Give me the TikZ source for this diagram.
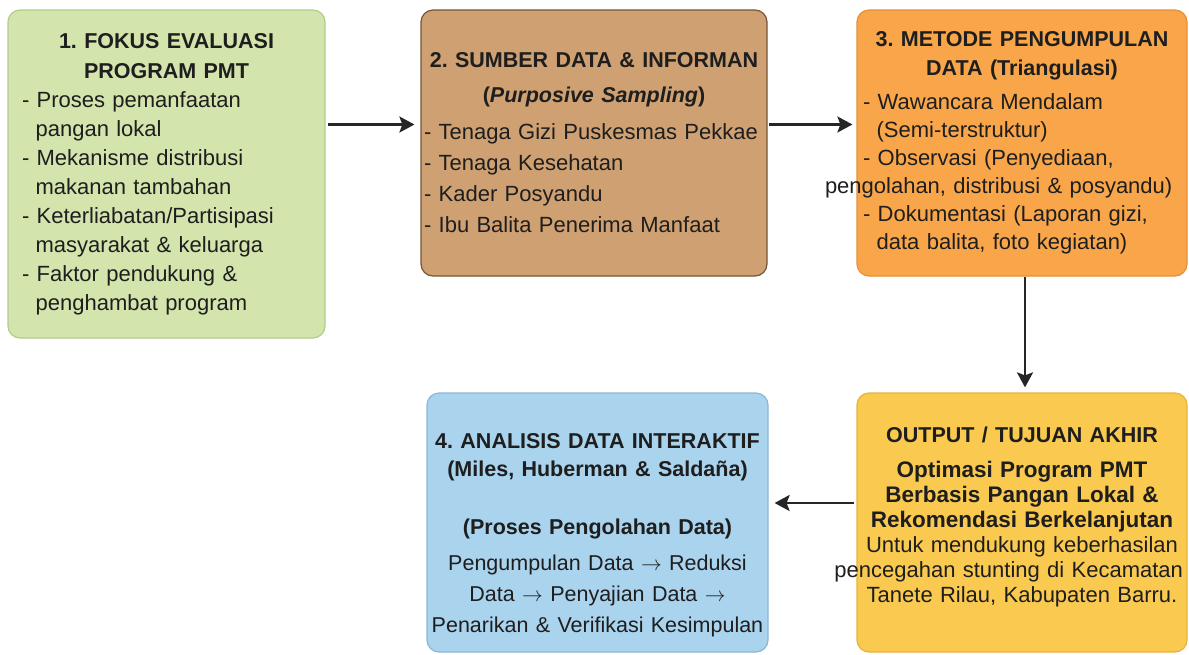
\documentclass[tikz,border=0pt]{standalone}
\usepackage{fontspec}
\setmainfont{Liberation Sans}
\usetikzlibrary{arrows.meta}

\definecolor{fokusfill}{RGB}{211,228,173}
\definecolor{fokusline}{RGB}{178,204,140}
\definecolor{sumberfill}{RGB}{207,160,113}
\definecolor{sumberline}{RGB}{115,85,55}
\definecolor{metodefill}{RGB}{249,166,75}
\definecolor{metodeline}{RGB}{232,142,55}
\definecolor{analisisfill}{RGB}{170,211,238}
\definecolor{analisisline}{RGB}{140,182,212}
\definecolor{outputfill}{RGB}{250,201,79}
\definecolor{outputline}{RGB}{232,178,60}
\definecolor{teks}{RGB}{30,30,30}

% one list entry, lines after the first hang under the text
\newcommand{\butir}[1]{\par\hangindent=0.62em\hangafter=1 - #1}
\newcommand{\judul}[1]{\fontsize{21.5}{#1}\selectfont\bfseries}
\newcommand{\panah}{$\rightarrow$}

\begin{document}
\frenchspacing
\begin{tikzpicture}[x=1pt, y=-1pt,
    box/.style={rounded corners=12pt, line width=1.2pt, inner sep=0pt,
        text=teks, font=\frenchspacing\fontsize{22}{29}\selectfont},
    flow/.style={line width=2.5pt, draw=black!85,
        -{Stealth[length=15pt, width=16pt, inset=3pt]}}]

    \useasboundingbox (0,0) rectangle (1189,654);

    % top row
    \node[box, fill=fokusfill, draw=fokusline,
        minimum width=317pt, minimum height=328pt, text width=289pt]
        (fokus) at (166.5,174) {%
        {\judul{30}\centering 1. FOKUS EVALUASI\\PROGRAM PMT\par}
        \raggedright
        \butir{Proses pemanfaatan\newline pangan lokal}
        \butir{Mekanisme distribusi\newline makanan tambahan}
        \butir{Keterliabatan/Partisipasi\newline masyarakat \& keluarga}
        \butir{Faktor pendukung \&\newline penghambat program}\par};

    \node[box, fill=sumberfill, draw=sumberline,
        minimum width=346pt, minimum height=266pt, text width=340pt]
        (sumber) at (594,143) {%
        {\judul{35}\centering 2. SUMBER DATA \& INFORMAN\\(\textit{Purposive Sampling})\par}
        \vspace{6pt}
        \fontsize{22}{31}\selectfont\raggedright
        \butir{Tenaga Gizi Puskesmas Pekkae}
        \butir{Tenaga Kesehatan}
        \butir{Kader Posyandu}
        \butir{Ibu Balita Penerima Manfaat}\par};

    \node[box, fill=metodefill, draw=metodeline,
        minimum width=330pt, minimum height=266pt, text width=318pt]
        (metode) at (1022,143) {%
        {\judul{29}\centering 3. METODE PENGUMPULAN\\DATA (Triangulasi)\par}
        \vspace{6pt}
        \fontsize{22}{28}\selectfont\raggedright
        \butir{Wawancara Mendalam\newline (Semi-terstruktur)}
        \butir{Observasi (Penyediaan,}
        \par\noindent\hspace*{-38pt}pengolahan, distribusi \& posyandu)
        \butir{Dokumentasi (Laporan gizi,\newline data balita, foto kegiatan)}\par};

    % bottom row
    \node[box, fill=analisisfill, draw=analisisline,
        minimum width=341pt, minimum height=259pt, text width=339pt]
        (analisis) at (597.5,522.5) {%
        \par\vspace*{12pt}
        \centering
        {\judul{28}4. ANALISIS DATA INTERAKTIF\\(Miles, Huberman \& Saldaña)\par}
        \vspace{30pt}
        {\judul{28}(Proses Pengolahan Data)\par}
        \vspace{5pt}
        \fontsize{21.5}{31}\selectfont
        Pengumpulan Data \panah{} Reduksi\\Data \panah{} Penyajian Data \panah\\
        Penarikan \& Verifikasi Kesimpulan\par};

    \node[box, fill=outputfill, draw=outputline,
        minimum width=330pt, minimum height=259pt, text width=322pt]
        (output) at (1022,522.5) {%
        \centering
        {\judul{24}OUTPUT / TUJUAN AKHIR\par}
        \vspace{10pt}
        {\fontsize{22.5}{25}\selectfont\bfseries
            Optimasi Program PMT\\Berbasis Pangan Lokal \&\\
            Rekomendasi Berkelanjutan\par}
        \fontsize{22}{25}\selectfont
        Untuk mendukung keberhasilan\\
        \makebox[\linewidth][r]{pencegahan stunting di Kecamatan}\\
        Tanete Rilau, Kabupaten Barru.\par
        \vspace*{12pt}};

    % connectors
    \draw[flow, shorten <=2pt, shorten >=6pt]
        ([yshift=18.5pt]sumber.west -| fokus.east) -- ([yshift=18.5pt]sumber.west);
    \draw[flow, shorten <=1pt, shorten >=4pt]
        ([yshift=18.5pt]sumber.east) -- ([yshift=18.5pt]metode.west);
    \draw[flow, shorten <=0pt, shorten >=5pt]
        ([xshift=3pt]metode.south) -- ([xshift=3pt]output.north);
    \draw[flow, shorten <=2pt, shorten >=6pt]
        ([yshift=19.5pt]output.west) -- ([yshift=19.5pt]output.west -| analisis.east);

\end{tikzpicture}
\end{document}
